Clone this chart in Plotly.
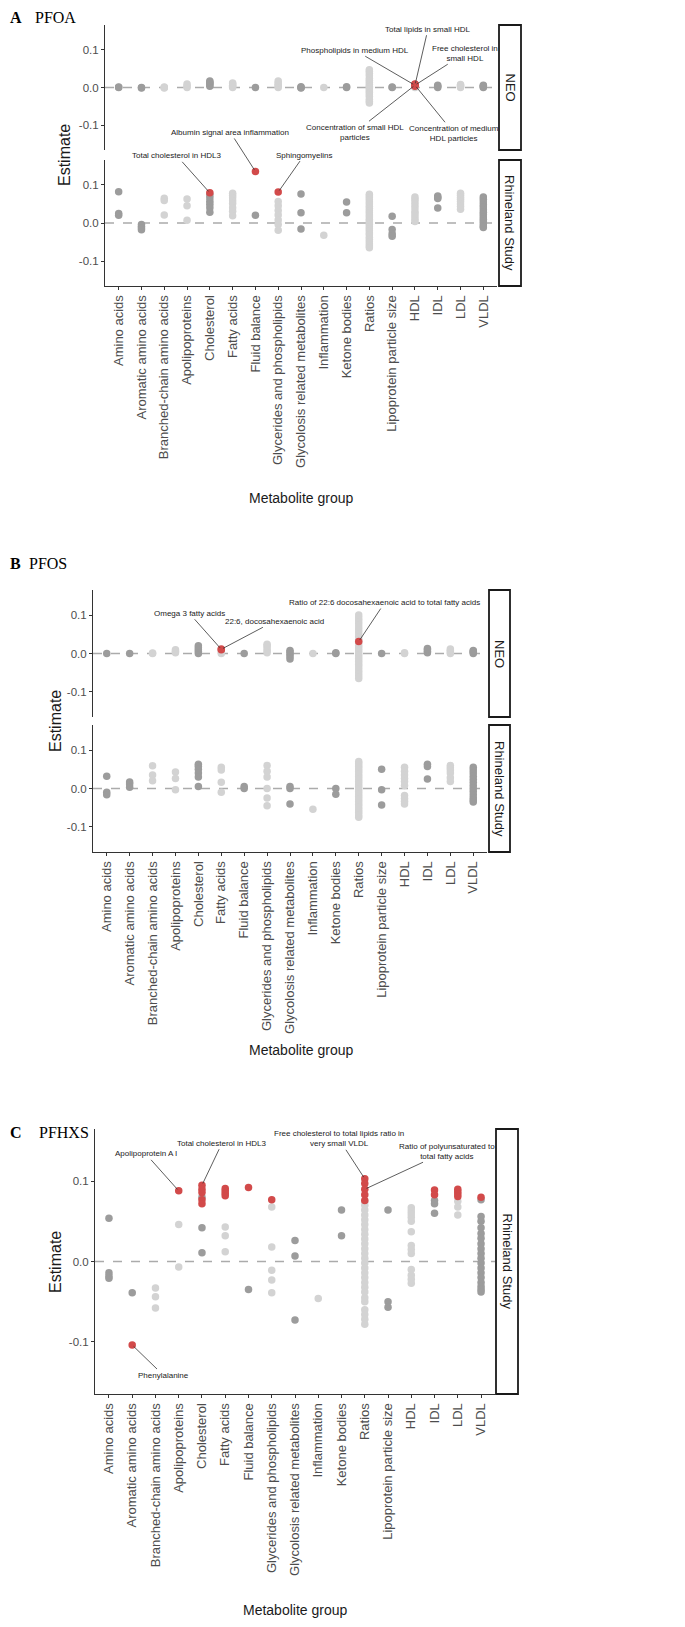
import plotly.graph_objects as go

W, H = 685, 1627
OFF = 8  # the page body keeps an 8px margin around the figure

CATEGORIES = [
    "Amino acids", "Aromatic amino acids", "Branched-chain amino acids", "Apolipoproteins",
    "Cholesterol", "Fatty acids", "Fluid balance", "Glycerides and phospholipids",
    "Glycolosis related metabolites", "Inflammation", "Ketone bodies", "Ratios",
    "Lipoprotein particle size", "HDL", "IDL", "LDL", "VLDL",
]
# which of the two grey tones each group is drawn in
GROUP_TONE = ["dark", "dark", "light", "light", "dark", "light", "dark", "light", "dark",
              "light", "dark", "light", "dark", "light", "dark", "light", "dark"]

# estimates per metabolite group (grey points), one list per group
PFOA_NEO = [
    [0.0, 0.001], [0.0, -0.001], [0.0, 0.001, -0.001], [0.0, 0.004, 0.009],
    [0.003, 0.007, 0.011, 0.014, 0.017], [0.0, 0.003, 0.006, 0.01, 0.012], [0.0],
    [0.0, 0.004, 0.008, 0.012, 0.017], [0.0, 0.002, -0.001], [0.0], [0.0, 0.002],
    [-0.041, -0.036, -0.031, -0.024, -0.019, -0.013, -0.009, -0.004, 0.0, 0.003, 0.008,
     0.014, 0.019, 0.024, 0.031, 0.037, 0.043, 0.047],
    [0.0, 0.001], [0.0, 0.002], [0.0, 0.003, 0.006], [0.0, 0.003, 0.006, 0.008],
    [0.0, 0.002, 0.004, 0.006],
]
PFOA_RS = [
    [0.082, 0.025, 0.02], [-0.004, -0.009, -0.013, -0.018], [0.065, 0.059, 0.021],
    [0.063, 0.045, 0.007], [0.074, 0.066, 0.057, 0.049, 0.04, 0.028],
    [0.078, 0.072, 0.066, 0.058, 0.051, 0.04, 0.031, 0.019], [0.02],
    [0.056, 0.045, 0.033, 0.021, 0.008, -0.004, -0.019], [0.076, 0.027, -0.016], [-0.032],
    [0.055, 0.027],
    [0.075, 0.071, 0.066, 0.061, 0.055, 0.05, 0.044, 0.038, 0.032, 0.027, 0.021, 0.016, 0.01,
     0.005, 0.0, -0.004, -0.01, -0.015, -0.02, -0.026, -0.031, -0.037, -0.043, -0.049, -0.055,
     -0.06, -0.065],
    [0.018, -0.017, -0.028, -0.035],
    [0.068, 0.062, 0.055, 0.047, 0.039, 0.03, 0.024, 0.017, 0.01, 0.004],
    [0.071, 0.067, 0.064, 0.039], [0.078, 0.073, 0.067, 0.062, 0.056, 0.05, 0.043, 0.036],
    [0.068, 0.062, 0.055, 0.048, 0.042, 0.035, 0.028, 0.022, 0.016, 0.01, 0.004, -0.002,
     -0.008, -0.012],
]
PFOS_NEO = [
    [0.0], [0.0], [0.0, 0.001], [0.002, 0.006, 0.01], [0.0, 0.005, 0.01, 0.015, 0.02],
    [0.0, 0.004], [0.0], [0.002, 0.008, 0.014, 0.02, 0.024], [-0.014, -0.008, -0.002, 0.004, 0.008],
    [0.0], [0.0, 0.002],
    [-0.065, -0.058, -0.05, -0.043, -0.035, -0.028, -0.02, -0.013, -0.006, 0.0, 0.007, 0.014,
     0.021, 0.029, 0.037, 0.045, 0.053, 0.061, 0.069, 0.077, 0.085, 0.092, 0.1],
    [0.0], [0.0, 0.002], [0.002, 0.006, 0.01, 0.013], [0.0, 0.004, 0.008, 0.012],
    [0.0, 0.003, 0.006, 0.008],
]
PFOS_RS = [
    [0.032, -0.01, -0.016], [0.017, 0.012, 0.003], [0.059, 0.035, 0.02], [0.043, 0.026, -0.003],
    [0.063, 0.058, 0.05, 0.04, 0.03, 0.005], [0.055, 0.048, 0.016, -0.01], [0.005, 0.0],
    [0.06, 0.045, 0.03, 0.0, -0.025, -0.045], [0.005, 0.0, -0.04], [-0.054], [0.0, -0.015],
    [0.07, 0.064, 0.058, 0.051, 0.045, 0.038, 0.031, 0.025, 0.018, 0.012, 0.005, -0.001, -0.008,
     -0.014, -0.021, -0.027, -0.034, -0.041, -0.048, -0.055, -0.062, -0.069, -0.075],
    [0.05, -0.003, -0.043],
    [0.055, 0.045, 0.035, 0.026, 0.018, 0.008, -0.018, -0.026, -0.033, -0.04],
    [0.063, 0.057, 0.025], [0.06, 0.054, 0.048, 0.04, 0.028, 0.018],
    [0.055, 0.048, 0.04, 0.032, 0.024, 0.016, 0.008, 0.0, -0.008, -0.016, -0.024, -0.03, -0.035],
]
PFHXS_RS = [
    [0.054, -0.014, -0.018, -0.021], [-0.039], [-0.033, -0.044, -0.058], [0.046, -0.007],
    [0.08, 0.042, 0.011], [0.043, 0.032, 0.012], [-0.035], [0.068, 0.018, -0.011, -0.023, -0.039],
    [0.026, 0.007, -0.073], [-0.046], [0.064, 0.032],
    [0.075, 0.07, 0.064, 0.058, 0.052, 0.046, 0.04, 0.034, 0.028, 0.022, 0.016, 0.01, 0.004,
     -0.002, -0.008, -0.014, -0.02, -0.026, -0.032, -0.038, -0.045, -0.05, -0.06, -0.066,
     -0.072, -0.078],
    [0.064, -0.05, -0.057],
    [0.067, 0.063, 0.059, 0.055, 0.05, 0.037, 0.02, 0.015, 0.01, -0.01, -0.017, -0.022, -0.027],
    [0.076, 0.072, 0.06], [0.075, 0.068, 0.058],
    [0.077, 0.056, 0.05, 0.042, 0.035, 0.029, 0.022, 0.016, 0.01, 0.004, -0.002, -0.008, -0.014,
     -0.02, -0.026, -0.031, -0.035, -0.038],
]

# significant metabolites (red points)
PFOA_NEO_HITS = {"HDL": [0.003, 0.005, 0.006, 0.008, 0.009]}
PFOA_RS_HITS = {"Cholesterol": [0.079], "Fluid balance": [0.135],
                "Glycerides and phospholipids": [0.081]}
PFOS_NEO_HITS = {"Fatty acids": [0.01, 0.012], "Ratios": [0.031]}
PFOS_RS_HITS = {}
PFHXS_RS_HITS = {
    "Aromatic amino acids": [-0.104], "Apolipoproteins": [0.088],
    "Cholesterol": [0.095, 0.09, 0.086, 0.077, 0.072], "Fatty acids": [0.091, 0.088, 0.085, 0.082],
    "Fluid balance": [0.092], "Glycerides and phospholipids": [0.077],
    "Ratios": [0.103, 0.097, 0.09, 0.083, 0.076], "IDL": [0.089, 0.083],
    "LDL": [0.09, 0.087, 0.084, 0.081], "VLDL": [0.08],
}

# labelled metabolites: (group, estimate, label, dx, dy) with label offsets in px
PFOA_NEO_LABELS = [
    ("HDL", 0.006, "Total lipids in small HDL", 13, -56),
    ("HDL", 0.006, "Phospholipids in medium HDL", -60, -35),
    ("HDL", 0.006, "Free cholesterol in<br>small HDL", 50, -32),
    ("HDL", 0.006, "Concentration of small HDL<br>particles", -60, 47),
    ("HDL", 0.006, "Concentration of medium<br>HDL particles", 39, 48),
]
PFOA_RS_LABELS = [
    ("Fluid balance", 0.135, "Albumin signal area inflammation", -25, -39),
    ("Cholesterol", 0.079, "Total cholesterol in HDL3", -33, -37),
    ("Glycerides and phospholipids", 0.081, "Sphingomyelins", 26, -37),
]
PFOS_NEO_LABELS = [
    ("Fatty acids", 0.011, "Omega 3 fatty acids", -32, -36),
    ("Fatty acids", 0.011, "22:6, docosahexaenoic acid", 53, -28),
    ("Ratios", 0.031, "Ratio of 22:6 docosahexaenoic acid to total fatty acids", 26, -39),
]
PFHXS_RS_LABELS = [
    ("Apolipoproteins", 0.088, "Apolipoprotein A I", -33, -37),
    ("Cholesterol", 0.095, "Total cholesterol in HDL3", 20, -42),
    ("Ratios", 0.103, "Free cholesterol to total lipids ratio in<br>very small VLDL", -26, -40),
    ("Ratios", 0.09, "Ratio of polyunsaturated to<br>total fatty acids", 82, -38),
    ("Aromatic amino acids", -0.104, "Phenylalanine", 31, 30),
]

DARK = "#9c9c9c"
LIGHT = "#d3d3d3"
RED = "#d24a4a"
AXIS = "#333333"
TICKTXT = "#4d4d4d"
SANS = "Liberation Sans, Arial, sans-serif"
SERIF = "Liberation Serif, Times New Roman, serif"

# facets: page-pixel box (left, right, top, bottom) of each panel
FACETS = [
    dict(gray=PFOA_NEO, hits=PFOA_NEO_HITS, labels=PFOA_NEO_LABELS, strip="NEO",
         box=(105, 497, 25, 150), strip_x=(499, 521), bottom=False),
    dict(gray=PFOA_RS, hits=PFOA_RS_HITS, labels=PFOA_RS_LABELS, strip="Rhineland Study",
         box=(105, 497, 160, 286), strip_x=(499, 521), bottom=True),
    dict(gray=PFOS_NEO, hits=PFOS_NEO_HITS, labels=PFOS_NEO_LABELS, strip="NEO",
         box=(93, 487, 590, 717), strip_x=(489, 510), bottom=False),
    dict(gray=PFOS_RS, hits=PFOS_RS_HITS, labels=[], strip="Rhineland Study",
         box=(93, 487, 725, 852), strip_x=(489, 510), bottom=True),
    dict(gray=PFHXS_RS, hits=PFHXS_RS_HITS, labels=PFHXS_RS_LABELS, strip="Rhineland Study",
         box=(95, 495, 1129, 1394), strip_x=(496, 518), bottom=True),
]

PANEL_TITLES = [("A", "PFOA", 17, 33), ("B", "PFOS", 563, 27), ("C", "PFHXS", 1132, 37)]
Y_TITLES = [(65, 155), (55, 721), (55, 1262)]
X_TITLES = [(301, 498), (301, 1050), (295, 1610)]

FW, FH = W - 2 * OFF, H - 2 * OFF


def px(x):
    return (x - OFF) / FW


def py(y):
    return 1 - (y - OFF) / FH


fig = go.Figure()
shapes = []
annotations = []

for k, f in enumerate(FACETS, start=1):
    sfx = "" if k == 1 else str(k)
    left, right, top, bottom = f["box"]

    xs, ys, cols = [], [], []
    for cat, tone, vals in zip(CATEGORIES, GROUP_TONE, f["gray"]):
        for v in vals:
            xs.append(cat)
            ys.append(v)
            cols.append(DARK if tone == "dark" else LIGHT)
    fig.add_trace(go.Scatter(x=xs, y=ys, mode="markers", xaxis="x" + sfx, yaxis="y" + sfx,
                             marker=dict(size=7.5, color=cols), showlegend=False,
                             cliponaxis=False))
    hx, hy = [], []
    for cat, vals in f["hits"].items():
        for v in vals:
            hx.append(cat)
            hy.append(v)
    if hx:
        fig.add_trace(go.Scatter(x=hx, y=hy, mode="markers", xaxis="x" + sfx, yaxis="y" + sfx,
                                 marker=dict(size=7.5, color=RED), showlegend=False,
                                 cliponaxis=False))

    fig.update_layout(**{
        "xaxis" + sfx: dict(
            domain=[px(left), px(right)], anchor="y" + sfx, type="category",
            categoryorder="array", categoryarray=CATEGORIES, range=[-0.6, 16.6],
            showgrid=False, zeroline=False, showline=f["bottom"], linecolor=AXIS, linewidth=1,
            ticks="outside" if f["bottom"] else "", ticklen=3, tickcolor=AXIS,
            showticklabels=f["bottom"], tickangle=-90,
            tickfont=dict(family=SANS, size=13, color=TICKTXT),
        ),
        "yaxis" + sfx: dict(
            domain=[py(bottom), py(top)], anchor="x" + sfx, range=[-0.165, 0.165],
            tickvals=[-0.1, 0, 0.1], ticktext=["-0.1", "0.0", "0.1"],
            showgrid=False, zeroline=False, showline=True, linecolor=AXIS, linewidth=1,
            ticks="outside", ticklen=3, tickcolor=AXIS,
            tickfont=dict(family=SANS, size=11.5, color=TICKTXT),
        ),
    })

    shapes.append(dict(type="line", xref="x" + sfx + " domain", yref="y" + sfx, x0=0, x1=1,
                       y0=0, y1=0, layer="below", line=dict(color="#ababab", width=1.3, dash="dash")))

    sx0, sx1 = f["strip_x"]
    shapes.append(dict(type="rect", xref="paper", yref="paper", x0=px(sx0), x1=px(sx1),
                       y0=py(bottom), y1=py(top), line=dict(color="#1a1a1a", width=1.8),
                       fillcolor="white"))
    annotations.append(dict(x=px((sx0 + sx1) / 2), y=py((top + bottom) / 2), xref="paper",
                            yref="paper", xanchor="center", yanchor="middle",
                            text=f["strip"], textangle=90, showarrow=False,
                            font=dict(family=SANS, size=13, color="#1a1a1a")))

    for cat, val, text, dx, dy in f["labels"]:
        annotations.append(dict(x=cat, y=val, xref="x" + sfx, yref="y" + sfx, text=text,
                                showarrow=True, arrowhead=0, arrowwidth=0.8, arrowcolor="#333333",
                                ax=dx, ay=dy, standoff=2, align="center",
                                font=dict(family=SANS, size=8, color="#1a1a1a")))

for letter, name, y, xname in PANEL_TITLES:
    annotations.append(dict(x=px(OFF), y=py(y), xref="paper", yref="paper", xanchor="left",
                            yanchor="middle", text="<b>" + letter + "</b>", showarrow=False,
                            font=dict(family=SERIF, size=16, color="black")))
    annotations.append(dict(x=px(xname), y=py(y), xref="paper", yref="paper", xanchor="left",
                            yanchor="middle", text=name, showarrow=False,
                            font=dict(family=SERIF, size=16, color="black")))

for x, y in Y_TITLES:
    annotations.append(dict(x=px(x), y=py(y), xref="paper", yref="paper", xanchor="center",
                            yanchor="middle", text="Estimate", textangle=-90, showarrow=False,
                            font=dict(family=SANS, size=16, color="#1a1a1a")))
for x, y in X_TITLES:
    annotations.append(dict(x=px(x), y=py(y), xref="paper", yref="paper", xanchor="center",
                            yanchor="middle", text="Metabolite group", showarrow=False,
                            font=dict(family=SANS, size=14, color="#1a1a1a")))

fig.update_layout(width=FW, height=FH, margin=dict(l=0, r=0, t=0, b=0),
                  paper_bgcolor="white", plot_bgcolor="white",
                  shapes=shapes, annotations=annotations)

fig.write_html("out.html")
